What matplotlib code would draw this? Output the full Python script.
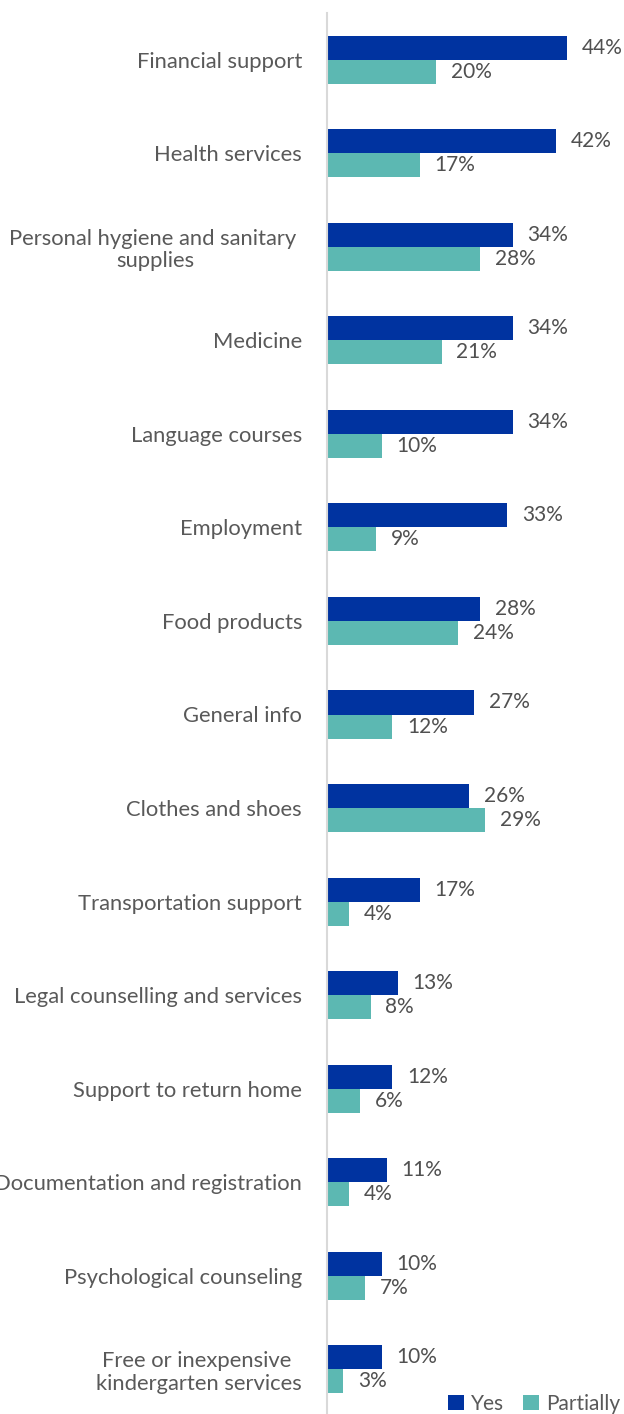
import matplotlib
matplotlib.use("Agg")
import matplotlib.pyplot as plt
import numpy as np

plt.rcParams["font.family"] = ["Lato", "DejaVu Sans"]

# --- data ---------------------------------------------------------------
categories = [
    "Financial support",
    "Health services",
    "Personal hygiene and sanitary \nsupplies",
    "Medicine",
    "Language courses",
    "Employment",
    "Food products",
    "General info",
    "Clothes and shoes",
    "Transportation support",
    "Legal counselling and services",
    "Support to return home",
    "Documentation and registration",
    "Psychological counseling",
    "Free or inexpensive \nkindergarten services",
]
yes_pct = [44, 42, 34, 34, 34, 33, 28, 27, 26, 17, 13, 12, 11, 10, 10]
partial_pct = [20, 17, 28, 21, 10, 9, 24, 12, 29, 4, 8, 6, 4, 7, 3]

YES = "#0033A0"
PARTIAL = "#5CB8B2"
TEXT = "#595959"
VALUE = "#505050"
AXIS = "#D9D9D9"

W, H = 624, 1414
fig = plt.figure(figsize=(W / 100, H / 100), dpi=100, facecolor="white")
# axes placed in pixel terms: spine at x=327, top band edge at y=13
left, right, top, bottom = 327, 602, 13, 1416
ax = fig.add_axes([left / W, 1 - bottom / H, (right - left) / W, (bottom - top) / H])

n = len(categories)
y = np.arange(n)
h = 0.257
ax.barh(y - h / 2, yes_pct, height=h, color=YES, label="Yes")
ax.barh(y + h / 2, partial_pct, height=h, color=PARTIAL, label="Partially")

ax.set_ylim(n - 0.5, -0.5)
ax.set_xlim(0, 50.4)

for i, (a, b) in enumerate(zip(yes_pct, partial_pct)):
    ax.text(a + 2.7, i - h / 2, f"{a}%", va="center", ha="left",
            color=VALUE, fontsize=15)
    ax.text(b + 2.7, i + h / 2, f"{b}%", va="center", ha="left",
            color=VALUE, fontsize=15)

ax.set_yticks(y)
ax.set_yticklabels(categories, multialignment="center", linespacing=1.15)
ax.tick_params(axis="y", length=0, pad=18, labelsize=15.8, labelcolor=TEXT)
ax.set_xticks([])
for s in ("top", "right", "bottom"):
    ax.spines[s].set_visible(False)
ax.spines["left"].set_color(AXIS)
ax.spines["left"].set_linewidth(1.5)

fig.legend(loc="center right", bbox_to_anchor=(620 / W, 1 - 1404 / H), ncol=2,
           frameon=False, prop={"size": 15},
           handlelength=0.75, handleheight=0.75,
           handletextpad=0.35, columnspacing=0.9, labelcolor=TEXT,
           borderaxespad=0.0, borderpad=0.0)

fig.savefig("out.png", dpi=100, facecolor="white")
